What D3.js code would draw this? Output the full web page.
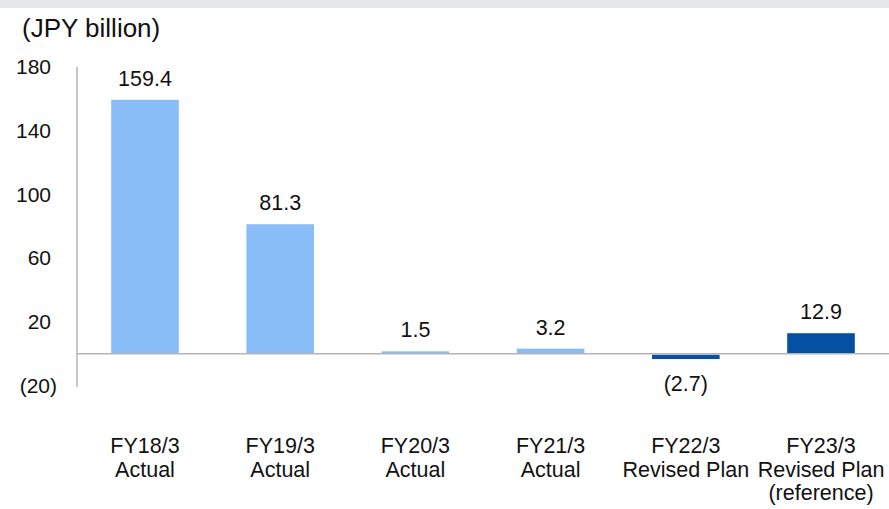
<!DOCTYPE html>
<html>
<head>
<meta charset="utf-8">
<script src="https://cdn.jsdelivr.net/npm/d3@7"></script>
<style>
  html, body { margin: 0; padding: 0; background: #fff; }
  svg { display: block; font-family: "Liberation Sans", Arial, sans-serif; }
</style>
</head>
<body>
<svg id="chart" width="889" height="509"></svg>
<script>
// Operating income by fiscal year (JPY billion)
const categories = [
  ["FY18/3", "Actual"],
  ["FY19/3", "Actual"],
  ["FY20/3", "Actual"],
  ["FY21/3", "Actual"],
  ["FY22/3", "Revised Plan"],
  ["FY23/3", "Revised Plan", "(reference)"]
];
const values = [159.4, 81.3, 1.5, 3.2, -2.7, 12.9];
const isPlan = [false, false, false, false, true, true];
const yTicks = [-20, 20, 60, 100, 140, 180];
const unitLabel = "(JPY billion)";

const svg = d3.select("#chart");
const W = 889, H = 509;

// thin header band
svg.append("rect").attr("x", 0).attr("y", 0).attr("width", W).attr("height", 8)
  .attr("fill", "#e6e7e8");

const fmt = v => v < 0 ? "(" + d3.format(".1f")(-v) + ")" : d3.format(".1f")(v);
const fmtTick = v => v < 0 ? "(" + (-v) + ")" : String(v);

const x = d3.scaleBand()
  .domain(categories.map(c => c[0]))
  .range([77.4, 888.6])
  .paddingInner(0.5)
  .paddingOuter(0.25);

const y = d3.scaleLinear().domain([-20, 180]).range([385.6, 67]);

// unit label
svg.append("text").attr("x", 22).attr("y", 37)
  .attr("font-size", 26).attr("fill", "#111").text(unitLabel);

// y axis: positive labels leave room for the closing parenthesis
const yAxis = d3.axisLeft(y).tickValues(yTicks).tickFormat(fmtTick).tickSize(0).tickPadding(20);
const gy = svg.append("g").attr("transform", "translate(77,0)").call(yAxis);
gy.select(".domain").remove();
gy.selectAll("text")
  .attr("font-size", 21).attr("fill", "#111")
  .attr("font-family", "'Liberation Sans', Arial, sans-serif")
  .attr("dx", d => d < 0 ? 0 : -6);
svg.append("line").attr("x1", 77).attr("x2", 77).attr("y1", y(180)).attr("y2", 387)
  .attr("stroke", "#b4b4b4").attr("stroke-width", 1.5);

// bars
const bars = svg.append("g");
categories.forEach((c, i) => {
  const v = values[i];
  bars.append("rect")
    .attr("x", x(c[0]))
    .attr("width", x.bandwidth())
    .attr("y", v >= 0 ? y(v) : y(0) + 1)
    .attr("height", Math.abs(y(v) - y(0)))
    .attr("fill", isPlan[i] ? "#0650a4" : "#89bdf8");
});

// zero line
svg.append("line").attr("x1", 77).attr("x2", W).attr("y1", y(0)).attr("y2", y(0))
  .attr("stroke", "#b4b4b4").attr("stroke-width", 1.5);

// value labels
categories.forEach((c, i) => {
  const v = values[i];
  const cx = x(c[0]) + x.bandwidth() / 2;
  svg.append("text")
    .attr("x", cx)
    .attr("y", v >= 0 ? y(v) - 14 : y(v) + 33)
    .attr("text-anchor", "middle")
    .attr("font-size", 21.5).attr("fill", "#111")
    .text(fmt(v));
});

// category labels
categories.forEach(c => {
  const cx = x(c[0]) + x.bandwidth() / 2;
  const t = svg.append("text").attr("text-anchor", "middle")
    .attr("font-size", 21.5).attr("fill", "#111");
  c.forEach((line, j) => {
    t.append("tspan").attr("x", cx).attr("y", 453 + j * 23.5).text(line);
  });
});
</script>
</body>
</html>
